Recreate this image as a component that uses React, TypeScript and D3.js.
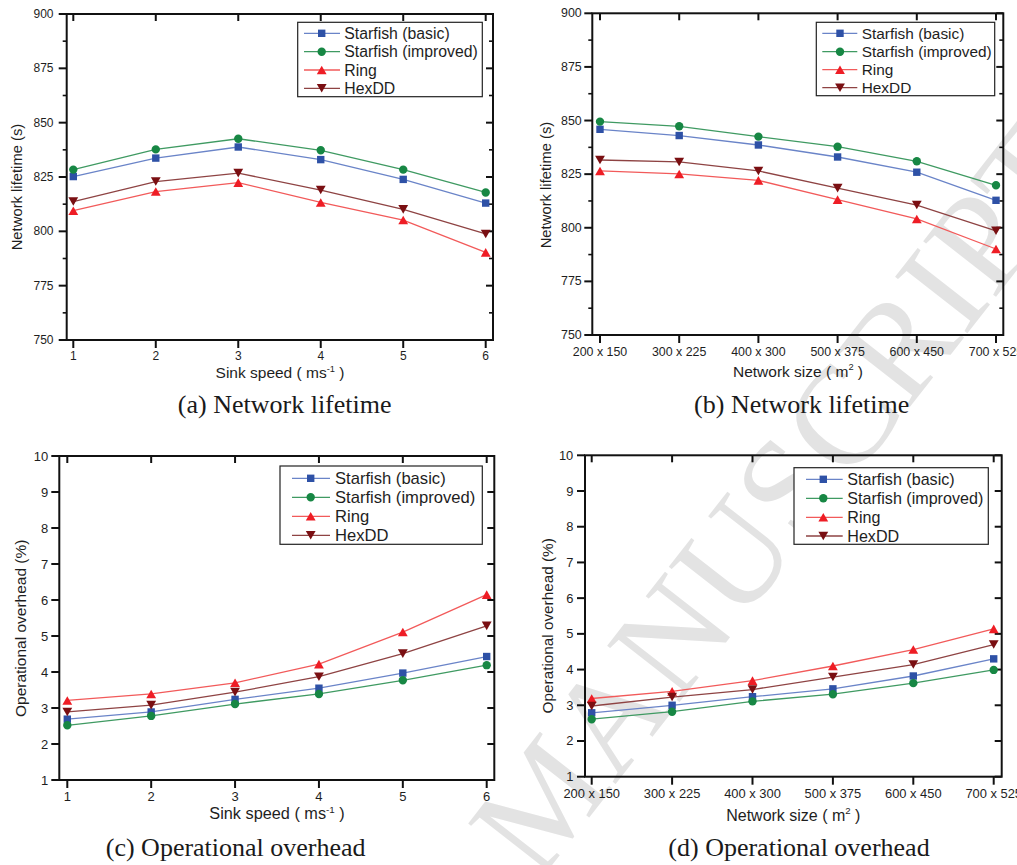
import React from "react";
import * as d3 from "d3";

// ---- categories & tick labels ----
const speedLabels = ["1", "2", "3", "4", "5", "6"];
const sizeLabels = ["200 x 150", "300 x 225", "400 x 300", "500 x 375", "600 x 450", "700 x 525"];
const seriesNames = ["Starfish (basic)", "Starfish (improved)", "Ring", "HexDD"];
const lifetimeTicks = [750, 775, 800, 825, 850, 875, 900];
const overheadTicks = [1, 2, 3, 4, 5, 6, 7, 8, 9, 10];

// ---- (a) network lifetime vs sink speed (s) ----
const lifeSpeedBasic = [825.2, 833.7, 838.8, 833.0, 823.9, 813.0];
const lifeSpeedImproved = [828.4, 837.7, 842.6, 837.3, 828.4, 817.9];
const lifeSpeedRing = [809.5, 818.3, 822.4, 813.3, 805.2, 790.3];
const lifeSpeedHexDD = [813.7, 822.9, 826.8, 819.0, 810.1, 798.8];

// ---- (b) network lifetime vs network size (s) ----
const lifeSizeBasic = [845.9, 843.0, 838.6, 833.0, 825.9, 812.8];
const lifeSizeImproved = [849.5, 847.3, 842.5, 837.8, 831.0, 819.8];
const lifeSizeRing = [826.5, 825.1, 822.1, 813.1, 804.1, 790.1];
const lifeSizeHexDD = [831.6, 830.7, 826.5, 818.5, 810.6, 798.6];

// ---- (c) operational overhead vs sink speed (%) ----
const ovhSpeedBasic = [2.69, 2.89, 3.24, 3.55, 3.97, 4.43];
const ovhSpeedImproved = [2.52, 2.78, 3.11, 3.39, 3.77, 4.19];
const ovhSpeedRing = [3.21, 3.39, 3.7, 4.22, 5.11, 6.15];
const ovhSpeedHexDD = [2.89, 3.08, 3.44, 3.87, 4.51, 5.28];

// ---- (d) operational overhead vs network size (%) ----
const ovhSizeBasic = [2.79, 3.0, 3.24, 3.46, 3.82, 4.3];
const ovhSizeImproved = [2.61, 2.82, 3.11, 3.31, 3.62, 3.99];
const ovhSizeRing = [3.19, 3.39, 3.69, 4.1, 4.56, 5.14];
const ovhSizeHexDD = [2.98, 3.23, 3.44, 3.79, 4.14, 4.7];

const W = 1017;
const H = 865;
const SANS = "'Liberation Sans', Arial, Helvetica, sans-serif";
const SERIF = "'Liberation Serif', 'Times New Roman', serif";
const INK = "#1e1e1e";

type Shape = "square" | "circle" | "up" | "down";
const styles: { line: string; fill: string; shape: Shape }[] = [
  { line: "#6a84c8", fill: "#2e51a6", shape: "square" },
  { line: "#3f9a62", fill: "#178744", shape: "circle" },
  { line: "#f25a5a", fill: "#ee1d25", shape: "up" },
  { line: "#8e4343", fill: "#7a0f12", shape: "down" },
];

function markerPath(shape: Shape, cx: number, cy: number): string {
  const p = d3.path();
  if (shape === "square") {
    const s = 3.7;
    p.rect(cx - s, cy - s, 2 * s, 2 * s);
  } else if (shape === "circle") {
    p.arc(cx, cy, 4.2, 0, Math.PI * 2);
  } else if (shape === "up") {
    const w = 4.9, h = 4.3;
    p.moveTo(cx, cy - h);
    p.lineTo(cx + w, cy + h);
    p.lineTo(cx - w, cy + h);
    p.closePath();
  } else {
    const w = 4.9, h = 4.3;
    p.moveTo(cx - w, cy - h);
    p.lineTo(cx + w, cy - h);
    p.lineTo(cx, cy + h);
    p.closePath();
  }
  return p.toString();
}

type PanelSpec = {
  frame: [number, number, number, number]; // left, top, right, bottom
  xRange: [number, number];
  categories: string[];
  yDomain: [number, number];
  yTicks: number[];
  yMinor: boolean;
  series: number[][];
  tickSize: number;
  yLabelRight: number;
  xLabelBaseline: number;
  xTitle: [string, string];
  xTitleX: number;
  xTitleBaseline: number;
  xTitleSize: number;
  yTitle: string;
  yTitlePos: [number, number];
  yTitleSize: number;
  caption: string;
  captionX: number;
  captionBaseline: number;
  legend: {
    box: [number, number, number, number];
    rows: number[];
    line: [number, number];
    markerX: number;
    textX: number;
    fontSize: number;
  };
};

const panels: PanelSpec[] = [
  {
    frame: [66.7, 14, 493, 340],
    xRange: [73.3, 485.7],
    categories: speedLabels,
    yDomain: [750, 900],
    yTicks: lifetimeTicks,
    yMinor: true,
    series: [lifeSpeedBasic, lifeSpeedImproved, lifeSpeedRing, lifeSpeedHexDD],
    tickSize: 12,
    yLabelRight: 53.5,
    xLabelBaseline: 360,
    xTitle: ["Sink speed ( ms", "-1"],
    xTitleX: 280,
    xTitleBaseline: 378,
    xTitleSize: 15.5,
    yTitle: "Network lifetime (s)",
    yTitlePos: [17, 187],
    yTitleSize: 14.8,
    caption: "(a) Network lifetime",
    captionX: 284.7,
    captionBaseline: 413,
    legend: {
      box: [297.7, 22.3, 482.3, 96.7],
      rows: [33.3, 51.7, 70, 88.3],
      line: [304, 340],
      markerX: 321.7,
      textX: 344.3,
      fontSize: 15.8,
    },
  },
  {
    frame: [592.3, 13.3, 1003.3, 335],
    xRange: [600, 996],
    categories: sizeLabels,
    yDomain: [750, 900],
    yTicks: lifetimeTicks,
    yMinor: true,
    series: [lifeSizeBasic, lifeSizeImproved, lifeSizeRing, lifeSizeHexDD],
    tickSize: 12.4,
    yLabelRight: 581.7,
    xLabelBaseline: 356,
    xTitle: ["Network size ( m", "2"],
    xTitleX: 798,
    xTitleBaseline: 376.7,
    xTitleSize: 15.5,
    yTitle: "Network lifetime (s)",
    yTitlePos: [545.7, 185],
    yTitleSize: 14.8,
    caption: "(b) Network lifetime",
    captionX: 801.7,
    captionBaseline: 413,
    legend: {
      box: [816.3, 22.3, 994.7, 95.7],
      rows: [33.3, 51.7, 69.7, 87.7],
      line: [822.3, 857.3],
      markerX: 840,
      textX: 861.7,
      fontSize: 15.4,
    },
  },
  {
    frame: [59.3, 456, 494.3, 780],
    xRange: [67.3, 486.7],
    categories: speedLabels,
    yDomain: [1, 10],
    yTicks: overheadTicks,
    yMinor: false,
    series: [ovhSpeedBasic, ovhSpeedImproved, ovhSpeedRing, ovhSpeedHexDD],
    tickSize: 13,
    yLabelRight: 48.3,
    xLabelBaseline: 801,
    xTitle: ["Sink speed ( ms", "-1"],
    xTitleX: 277,
    xTitleBaseline: 819.3,
    xTitleSize: 16.3,
    yTitle: "Operational overhead (%)",
    yTitlePos: [20.7, 628.3],
    yTitleSize: 15.5,
    caption: "(c) Operational overhead",
    captionX: 235.7,
    captionBaseline: 856,
    legend: {
      box: [280, 466, 482.3, 544.3],
      rows: [478.3, 497.3, 516.3, 535.3],
      line: [292, 330],
      markerX: 310.7,
      textX: 335,
      fontSize: 16.6,
    },
  },
  {
    frame: [585, 455.3, 1001.7, 776.7],
    xRange: [591.7, 993.7],
    categories: sizeLabels,
    yDomain: [1, 10],
    yTicks: overheadTicks,
    yMinor: false,
    series: [ovhSizeBasic, ovhSizeImproved, ovhSizeRing, ovhSizeHexDD],
    tickSize: 12.9,
    yLabelRight: 573.3,
    xLabelBaseline: 797.7,
    xTitle: ["Network size ( m", "2"],
    xTitleX: 793.3,
    xTitleBaseline: 820.7,
    xTitleSize: 16,
    yTitle: "Operational overhead (%)",
    yTitlePos: [547.3, 625.8],
    yTitleSize: 15.3,
    caption: "(d) Operational overhead",
    captionX: 799,
    captionBaseline: 856,
    legend: {
      box: [794, 467.7, 988.3, 544.3],
      rows: [479.3, 498.3, 517.3, 536],
      line: [806, 842.7],
      markerX: 823.3,
      textX: 847.3,
      fontSize: 16.1,
    },
  },
];

function Panel({ spec }: { spec: PanelSpec }) {
  const [left, top, right, bottom] = spec.frame;
  const x = d3.scalePoint<string>().domain(spec.categories).range(spec.xRange).padding(0);
  const y = d3.scaleLinear().domain(spec.yDomain).range([bottom, top]);
  const line = d3
    .line<number>()
    .x((_, i) => x(spec.categories[i]) as number)
    .y((v) => y(v));

  const minor: number[] = [];
  if (spec.yMinor) {
    for (let i = 0; i < spec.yTicks.length - 1; i++) {
      minor.push((spec.yTicks[i] + spec.yTicks[i + 1]) / 2);
    }
  }

  const lg = spec.legend;

  return (
    <g>
      {/* plot frame */}
      <rect x={left} y={top} width={right - left} height={bottom - top} fill="none" stroke="#111" strokeWidth={2} />

      {/* y ticks: outward on the left, inward on the right */}
      {spec.yTicks.map((t) => (
        <g key={"yt" + t}>
          <line x1={left - 8} x2={left} y1={y(t)} y2={y(t)} stroke="#111" strokeWidth={2} />
          <line x1={right - 7} x2={right} y1={y(t)} y2={y(t)} stroke="#111" strokeWidth={2} />
          <text
            x={spec.yLabelRight}
            y={y(t)}
            textAnchor="end"
            dominantBaseline="central"
            fontFamily={SANS}
            fontSize={spec.tickSize}
            fill={INK}
          >
            {t}
          </text>
        </g>
      ))}
      {minor.map((t) => (
        <g key={"ym" + t}>
          <line x1={left - 4} x2={left} y1={y(t)} y2={y(t)} stroke="#111" strokeWidth={1.6} />
          <line x1={right - 4} x2={right} y1={y(t)} y2={y(t)} stroke="#111" strokeWidth={1.6} />
        </g>
      ))}

      {/* x ticks: inward on top, outward at the bottom */}
      {spec.categories.map((c) => {
        const cx = x(c) as number;
        return (
          <g key={"xt" + c}>
            <line x1={cx} x2={cx} y1={top} y2={top + 7} stroke="#111" strokeWidth={2} />
            <line x1={cx} x2={cx} y1={bottom} y2={bottom + 8} stroke="#111" strokeWidth={2} />
            <text
              x={cx}
              y={spec.xLabelBaseline}
              textAnchor="middle"
              fontFamily={SANS}
              fontSize={spec.tickSize}
              fill={INK}
            >
              {c}
            </text>
          </g>
        );
      })}

      {/* series */}
      {spec.series.map((vals, si) => (
        <g key={"s" + si}>
          <path d={line(vals) as string} fill="none" stroke={styles[si].line} strokeWidth={1.3} />
          {vals.map((v, i) => (
            <path
              key={i}
              d={markerPath(styles[si].shape, x(spec.categories[i]) as number, y(v))}
              fill={styles[si].fill}
            />
          ))}
        </g>
      ))}

      {/* legend */}
      <rect
        x={lg.box[0]}
        y={lg.box[1]}
        width={lg.box[2] - lg.box[0]}
        height={lg.box[3] - lg.box[1]}
        fill="#fff"
        stroke="#222"
        strokeWidth={1.2}
      />
      {seriesNames.map((name, si) => (
        <g key={"lg" + si}>
          <line x1={lg.line[0]} x2={lg.line[1]} y1={lg.rows[si]} y2={lg.rows[si]} stroke={styles[si].line} strokeWidth={1.3} />
          <path d={markerPath(styles[si].shape, lg.markerX, lg.rows[si])} fill={styles[si].fill} />
          <text
            x={lg.textX}
            y={lg.rows[si]}
            dominantBaseline="central"
            fontFamily={SANS}
            fontSize={lg.fontSize}
            fill={INK}
          >
            {name}
          </text>
        </g>
      ))}

      {/* axis titles */}
      <text
        x={spec.xTitleX}
        y={spec.xTitleBaseline}
        textAnchor="middle"
        fontFamily={SANS}
        fontSize={spec.xTitleSize}
        fill={INK}
      >
        {spec.xTitle[0]}
        <tspan fontSize={spec.xTitleSize * 0.6} dy={-6.5}>
          {spec.xTitle[1]}
        </tspan>
        <tspan dy={6.5}>{" )"}</tspan>
      </text>
      <text
        transform={`translate(${spec.yTitlePos[0]},${spec.yTitlePos[1]}) rotate(-90)`}
        textAnchor="middle"
        dominantBaseline="central"
        fontFamily={SANS}
        fontSize={spec.yTitleSize}
        fill={INK}
      >
        {spec.yTitle}
      </text>

      {/* caption */}
      <text
        x={spec.captionX}
        y={spec.captionBaseline}
        textAnchor="middle"
        fontFamily={SERIF}
        fontSize={26}
        fill="#1a1a1a"
      >
        {spec.caption}
      </text>
    </g>
  );
}

export default function App() {
  return (
    <svg
      width={W}
      height={H}
      viewBox={`0 0 ${W} ${H}`}
      style={{ position: "absolute", left: 0, top: 0, background: "#fff" }}
    >
      <rect x={0} y={0} width={W} height={H} fill="#fff" />
      {/* diagonal watermark behind the figures */}
      <g transform="translate(538,883) rotate(-52)">
        <text x={0} y={0} fontFamily={SERIF} fontSize={140} fill="#e3e3e3">
          MANUSCRIPT
        </text>
      </g>
      {panels.map((p, i) => (
        <Panel key={i} spec={p} />
      ))}
    </svg>
  );
}
